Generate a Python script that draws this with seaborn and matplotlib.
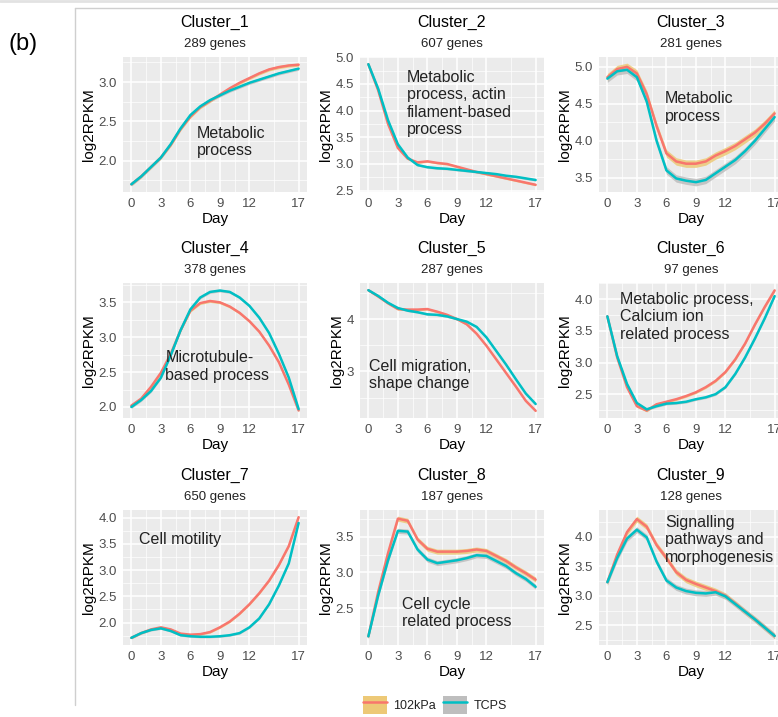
import numpy as np
import pandas as pd
import matplotlib
matplotlib.use("Agg")
import matplotlib.pyplot as plt
import seaborn as sns
from matplotlib.patches import Patch
from matplotlib.lines import Line2D
from matplotlib.ticker import FixedLocator, FuncFormatter

# ---------------- data ----------------
days = list(range(18))
conditions = ["102kPa", "TCPS"]
cluster_names = ["Cluster_1", "Cluster_2", "Cluster_3", "Cluster_4", "Cluster_5",
                 "Cluster_6", "Cluster_7", "Cluster_8", "Cluster_9"]
gene_counts = [289, 607, 281, 378, 287, 97, 650, 187, 128]
annotations = ["Metabolic\nprocess",
               "Metabolic\nprocess, actin\nfilament-based\nprocess",
               "Metabolic\nprocess",
               "Microtubule-\nbased process",
               "Cell migration,\nshape change",
               "Metabolic process,\nCalcium ion\nrelated process",
               "Cell motility",
               "Cell cycle\nrelated process",
               "Signalling\npathways and\nmorphogenesis"]
x_ticks = [0, 3, 6, 9, 12, 17]

c1_kpa = [1.70, 1.80, 1.92, 2.04, 2.20, 2.40, 2.56, 2.68, 2.76, 2.84, 2.92, 2.99, 3.05, 3.11, 3.16, 3.19, 3.21, 3.22]
c1_tcps = [1.70, 1.80, 1.92, 2.04, 2.21, 2.41, 2.58, 2.69, 2.77, 2.83, 2.89, 2.94, 2.99, 3.03, 3.07, 3.11, 3.14, 3.17]
c2_kpa = [4.87, 4.38, 3.75, 3.30, 3.10, 3.03, 3.05, 3.02, 3.00, 2.95, 2.90, 2.85, 2.81, 2.77, 2.73, 2.69, 2.65, 2.61]
c2_tcps = [4.87, 4.41, 3.82, 3.37, 3.12, 2.98, 2.94, 2.92, 2.91, 2.89, 2.87, 2.85, 2.83, 2.81, 2.78, 2.76, 2.73, 2.70]
c3_kpa = [4.86, 4.97, 5.00, 4.91, 4.63, 4.20, 3.83, 3.72, 3.69, 3.69, 3.72, 3.80, 3.86, 3.93, 4.02, 4.11, 4.23, 4.37]
c3_tcps = [4.84, 4.94, 4.96, 4.86, 4.53, 4.00, 3.60, 3.49, 3.46, 3.44, 3.47, 3.56, 3.65, 3.74, 3.86, 4.00, 4.16, 4.32]
c4_kpa = [2.02, 2.12, 2.29, 2.49, 2.76, 3.10, 3.38, 3.49, 3.52, 3.50, 3.44, 3.35, 3.23, 3.08, 2.88, 2.64, 2.32, 1.95]
c4_tcps = [2.00, 2.10, 2.23, 2.42, 2.74, 3.10, 3.40, 3.57, 3.65, 3.67, 3.65, 3.57, 3.45, 3.28, 3.06, 2.76, 2.42, 1.97]
c5_kpa = [4.55, 4.43, 4.30, 4.19, 4.18, 4.18, 4.19, 4.14, 4.08, 4.00, 3.90, 3.72, 3.49, 3.23, 2.97, 2.71, 2.44, 2.25]
c5_tcps = [4.55, 4.44, 4.31, 4.21, 4.16, 4.13, 4.09, 4.08, 4.05, 4.00, 3.95, 3.85, 3.65, 3.39, 3.13, 2.85, 2.58, 2.38]
c6_kpa = [3.73, 3.08, 2.61, 2.31, 2.24, 2.34, 2.38, 2.42, 2.47, 2.53, 2.61, 2.71, 2.85, 3.05, 3.30, 3.60, 3.88, 4.14]
c6_tcps = [3.73, 3.10, 2.66, 2.36, 2.26, 2.31, 2.35, 2.36, 2.38, 2.42, 2.45, 2.50, 2.61, 2.82, 3.08, 3.38, 3.70, 4.05]
c7_kpa = [1.71, 1.80, 1.87, 1.91, 1.87, 1.79, 1.77, 1.78, 1.82, 1.91, 2.02, 2.17, 2.35, 2.56, 2.80, 3.10, 3.46, 4.01]
c7_tcps = [1.71, 1.80, 1.86, 1.89, 1.84, 1.76, 1.74, 1.73, 1.73, 1.74, 1.76, 1.80, 1.91, 2.08, 2.35, 2.71, 3.13, 3.90]
c8_kpa = [2.11, 2.73, 3.27, 3.75, 3.72, 3.46, 3.33, 3.29, 3.29, 3.29, 3.30, 3.32, 3.30, 3.23, 3.16, 3.07, 2.99, 2.90]
c8_tcps = [2.11, 2.68, 3.17, 3.58, 3.57, 3.32, 3.18, 3.13, 3.15, 3.17, 3.20, 3.24, 3.23, 3.16, 3.09, 2.99, 2.91, 2.80]
c9_kpa = [3.23, 3.70, 4.08, 4.30, 4.17, 3.86, 3.64, 3.40, 3.27, 3.20, 3.14, 3.08, 3.00, 2.87, 2.73, 2.60, 2.46, 2.32]
c9_tcps = [3.23, 3.64, 3.97, 4.12, 3.99, 3.58, 3.26, 3.14, 3.08, 3.05, 3.04, 3.06, 2.99, 2.86, 2.73, 2.60, 2.46, 2.32]

ribbon_halfwidth = [0.02, 0.02, 0.05, 0.02, 0.02, 0.02, 0.02, 0.035, 0.05]

y_ticks = [[2.0, 2.5, 3.0],
           [2.5, 3.0, 3.5, 4.0, 4.5, 5.0],
           [3.5, 4.0, 4.5, 5.0],
           [2.0, 2.5, 3.0, 3.5],
           [3, 4],
           [2.5, 3.0, 3.5, 4.0],
           [2.0, 2.5, 3.0, 3.5, 4.0],
           [2.5, 3.0, 3.5],
           [2.5, 3.0, 3.5, 4.0]]
y_decimals = [1, 1, 1, 1, 0, 1, 1, 1, 1]

annot_pos = [(0.40, 0.49), (0.254, 0.905), (0.36, 0.745),
             (0.23, 0.50), (0.05, 0.44), (0.114, 0.935),
             (0.087, 0.84), (0.227, 0.355), (0.36, 0.965)]

series_kpa = [c1_kpa, c2_kpa, c3_kpa, c4_kpa, c5_kpa, c6_kpa, c7_kpa, c8_kpa, c9_kpa]
series_tcps = [c1_tcps, c2_tcps, c3_tcps, c4_tcps, c5_tcps, c6_tcps, c7_tcps, c8_tcps, c9_tcps]

# ---------------- style ----------------
sns.set_theme(style="darkgrid", rc={"axes.facecolor": "#EBEBEB", "grid.color": "white"})
plt.rcParams["font.family"] = ["Liberation Sans", "DejaVu Sans"]
plt.rcParams["lines.solid_joinstyle"] = "round"
plt.rcParams["lines.solid_capstyle"] = "round"

line_colors = {"102kPa": "#F8766D", "TCPS": "#00BFC4"}
band_colors = {"102kPa": "#EDC977", "TCPS": "#BEBEBE"}

W, H = 778, 717
fig = plt.figure(figsize=(W / 100, H / 100), dpi=100)
fig.patch.set_facecolor("white")

col_left = [123, 360, 599]
panel_w = 184
row_top = [57, 283, 510]
panel_h = 135

for i in range(9):
    r, c = divmod(i, 3)
    left, top = col_left[c], row_top[r]
    ax = fig.add_axes([left / W, 1 - (top + panel_h) / H, panel_w / W, panel_h / H])
    df = pd.DataFrame({
        "Day": days * 2,
        "log2RPKM": series_kpa[i] + series_tcps[i],
        "Condition": [conditions[0]] * len(days) + [conditions[1]] * len(days),
    })
    hw = ribbon_halfwidth[i]
    for cond in conditions:
        sub = df[df["Condition"] == cond]
        ax.fill_between(sub["Day"], sub["log2RPKM"] - hw, sub["log2RPKM"] + hw,
                        color=band_colors[cond], alpha=0.85, lw=0, zorder=2)
    sns.lineplot(data=df, x="Day", y="log2RPKM", hue="Condition", palette=line_colors,
                 hue_order=conditions, ax=ax, legend=False, linewidth=1.8, zorder=3)

    lo = df["log2RPKM"].min() - hw
    hi = df["log2RPKM"].max() + hw
    pad = (hi - lo) * 0.05
    ax.set_ylim(lo - pad, hi + pad)
    ax.set_xlim(-0.85, 17.85)

    ax.xaxis.set_major_locator(FixedLocator(x_ticks))
    ax.xaxis.set_minor_locator(FixedLocator([1.5, 4.5, 7.5, 10.5, 14.5]))
    yt = y_ticks[i]
    step = yt[1] - yt[0]
    ax.yaxis.set_major_locator(FixedLocator(yt))
    ax.yaxis.set_minor_locator(FixedLocator([yt[0] - step / 2] + [v + step / 2 for v in yt]))
    d = y_decimals[i]
    ax.yaxis.set_major_formatter(FuncFormatter(lambda v, p, d=d: f"{v:.{d}f}"))
    ax.grid(which="major", color="white", linewidth=1.1)
    ax.grid(which="minor", color="white", linewidth=0.5)
    ax.set_axisbelow(True)
    for s in ax.spines.values():
        s.set_visible(False)
    ax.tick_params(which="major", length=3, width=0.8, color="#333333",
                   labelcolor="#4D4D4D", labelsize=9.5, pad=1.5)
    ax.tick_params(which="minor", length=0)
    ax.set_xlabel("Day", fontsize=11, color="black", labelpad=1)
    ax.set_ylabel("log2RPKM", fontsize=11, color="black", labelpad=2)

    ax.text(annot_pos[i][0], annot_pos[i][1], annotations[i], transform=ax.transAxes,
            ha="left", va="top", fontsize=11.5, color="#222222", linespacing=1.2,
            zorder=5, clip_on=False)

    cx = (left + panel_w / 2) / W
    fig.text(cx, 1 - (top - 35) / H, cluster_names[i], ha="center", va="center",
             fontsize=11.5, color="black")
    fig.text(cx, 1 - (top - 13) / H, f"{gene_counts[i]} genes", ha="center", va="center",
             fontsize=9.5, color="#222222")

# panel label and frame
fig.text(8 / W, 1 - 44 / H, "(b)", ha="left", va="center", fontsize=17, color="black")
fig.add_artist(Line2D([75 / W, 75 / W], [1 - 705 / H, 1 - 8 / H], transform=fig.transFigure,
                      color="#CFCFCF", lw=1))
fig.add_artist(Line2D([75 / W, 1], [1 - 8 / H, 1 - 8 / H], transform=fig.transFigure,
                      color="#CFCFCF", lw=1))
fig.add_artist(Line2D([0, 1], [1 - 1 / H, 1 - 1 / H], transform=fig.transFigure,
                      color="#E2E2E2", lw=2))

# legend
handles = [(Patch(facecolor=band_colors[c], edgecolor="none"),
            Line2D([], [], color=line_colors[c], lw=1.8)) for c in conditions]
fig.legend(handles, conditions, loc="center", bbox_to_anchor=(435 / W, 1 - 705 / H),
           ncol=2, frameon=False, fontsize=9, handlelength=1.9, handleheight=1.9,
           handletextpad=0.5, columnspacing=0.6, labelcolor="#222222")

fig.savefig("out.png", dpi=100)
